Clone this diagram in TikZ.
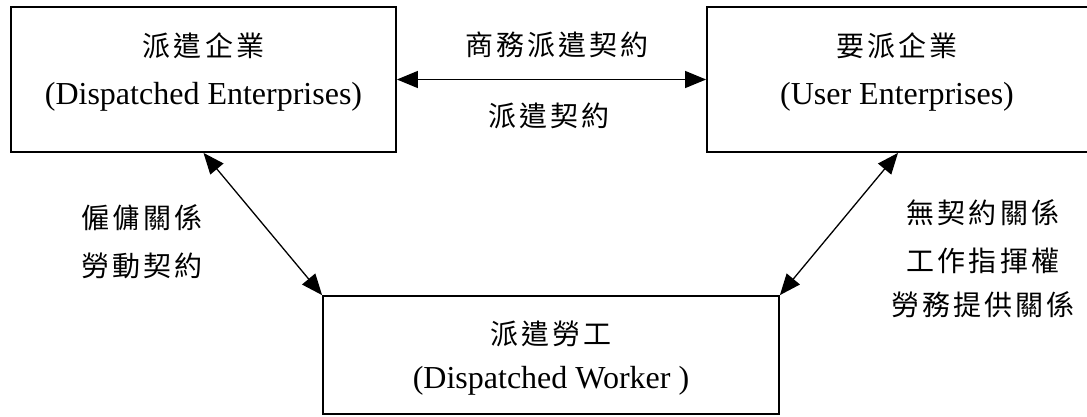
\documentclass[tikz,border=0pt]{standalone}
\usepackage{fontspec}
\setmainfont{Liberation Serif}
\newfontfamily\cjk{Noto Sans CJK TC}[LetterSpace=11]
\usetikzlibrary{arrows.meta}
\begin{document}
\begin{tikzpicture}[x=1pt,y=-1pt,
  box/.style={draw, line width=1.8pt, inner sep=0pt},
  zh/.style={font=\cjk\fontsize{28pt}{30pt}\selectfont, inner sep=0pt, anchor=base},
  en/.style={font=\fontsize{32pt}{36pt}\selectfont, inner sep=0pt, anchor=base},
  arr/.style={{Triangle[length=21pt,width=17pt]}-{Triangle[length=21pt,width=17pt]}, line width=1.3pt}]
\useasboundingbox (0,0) rectangle (1087,416);
% boxes
\node[box, minimum width=385pt, minimum height=145pt] (lbox) at (203.5,79.5) {};
\node[box, minimum width=382pt, minimum height=145pt] (rbox) at (898,79.5) {};
\node[box, minimum width=456pt, minimum height=118pt] (wbox) at (551,355) {};
% box texts
\node[zh] (lzh) at (203.5,56) {派遣企業};
\node[en] (len) at (203.5,104) {(Dispatched Enterprises)};
\node[zh] (rzh) at (897,56) {要派企業};
\node[en] (ren) at (897,104) {(User Enterprises)};
\node[zh] (wzh) at (551,344) {派遣勞工};
\node[en] (wen) at (551,388) {(Dispatched Worker )};
% connectors
\draw[arr] (lbox.east) -- (rbox.west);
\draw[arr] (lbox.south) -- (wbox.north west);
\draw[arr] (rbox.south) -- (wbox.north east);
% labels
\node[zh] (t1) at (557,55) {商務派遣契約};
\node[zh] (t2) at (549,126) {派遣契約};
\node[zh] (l1) at (142,228) {僱傭關係};
\node[zh] (l2) at (142,276) {勞動契約};
\node[zh] (r1) at (983,223) {無契約關係};
\node[zh] (r2) at (983,271) {工作指揮權};
\node[zh] (r3) at (983,315) {勞務提供關係};
\end{tikzpicture}
\end{document}
